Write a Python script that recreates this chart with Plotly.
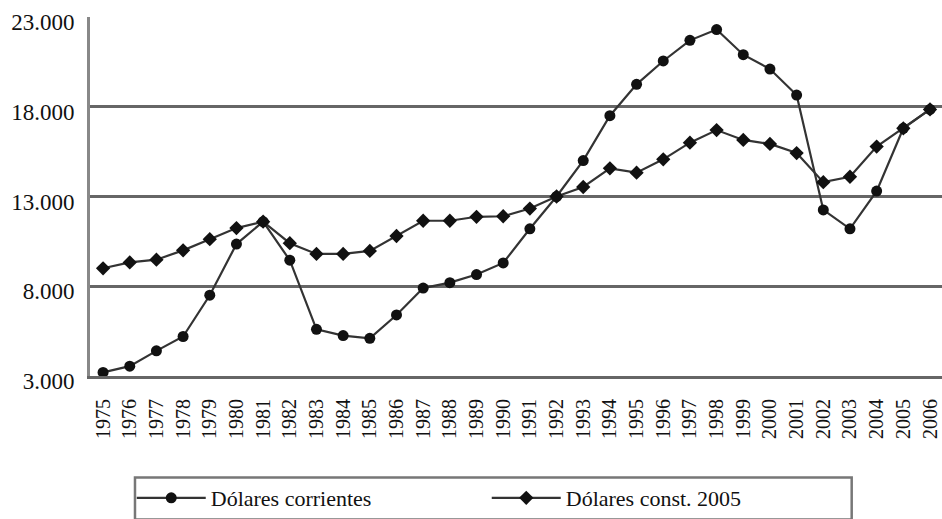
import plotly.graph_objects as go

years = list(range(1975, 2007))

# Dólares corrientes
corrientes = [3200, 3550, 4400, 5200, 7500, 10350, 11600, 9450, 5600, 5250,
              5100, 6400, 7900, 8200, 8650, 9300, 11200, 13000, 15000, 17500,
              19250, 20550, 21700, 22300, 20900, 20100, 18650, 12250, 11200, 13300,
              16800, 17850]

# Dólares constantes 2005
constantes = [9000, 9330, 9480, 10000, 10620, 11240, 11600, 10400, 9800, 9800,
              9970, 10800, 11650, 11650, 11870, 11900, 12330, 13000, 13530, 14570,
              14330, 15070, 16000, 16700, 16150, 15930, 15420, 13800, 14100, 15780,
              16800, 17850]

y_ticks = [3000, 8000, 13000, 18000, 23000]
y_labels = ["3.000", "8.000", "13.000", "18.000", "23.000"]

serif = "Liberation Serif"

fig = go.Figure()
fig.add_trace(go.Scatter(
    x=years, y=corrientes, name="Dólares corrientes", mode="lines+markers",
    line=dict(color="#333333", width=2.2),
    marker=dict(symbol="circle", size=11, color="#111111"),
))
fig.add_trace(go.Scatter(
    x=years, y=constantes, name="Dólares const. 2005", mode="lines+markers",
    line=dict(color="#333333", width=2.2),
    marker=dict(symbol="diamond", size=11, color="#111111"),
))

fig.update_layout(
    width=942, height=519,
    margin=dict(l=90, r=0, t=17, b=133),
    paper_bgcolor="white", plot_bgcolor="white",
    separators=",.",
    font=dict(family=serif, color="#111111"),
    showlegend=True,
    legend=dict(
        orientation="h", x=0.049, y=-0.283, xanchor="left", yanchor="top",
        font=dict(family=serif, size=22, color="#111111"),
        entrywidth=271, itemwidth=69, bgcolor="rgba(0,0,0,0)",
    ),
)

fig.update_xaxes(
    range=[1974.51, 2006.45], tickmode="array", tickvals=years,
    ticktext=[str(y) for y in years], tickangle=-90,
    tickfont=dict(family=serif, size=20), ticklabelstandoff=12,
    ticklabeloverflow="allow",
    showgrid=False, zeroline=False, automargin=False,
    showline=True, linecolor="#666666", linewidth=3,
)
fig.update_yaxes(
    range=[3000, 23000], tickmode="array", tickvals=y_ticks, ticktext=y_labels,
    tickfont=dict(family=serif, size=23), ticklabelstandoff=8,
    ticklabelshift=5, ticklabeloverflow="allow",
    showgrid=True, gridcolor="#666666", gridwidth=3, zeroline=False,
    automargin=False,
    showline=True, linecolor="#888888", linewidth=3,
)

# legend frame
fig.add_shape(type="rect", xref="paper", yref="paper",
              x0=0.0528, x1=0.894, y0=-0.40, y1=-0.283,
              line=dict(color="#777777", width=2.5), fillcolor="rgba(0,0,0,0)")

# the page body has a default 8px margin; drop it so the chart fills the window
fig.write_html("out.html", config={"displayModeBar": False},
               post_script="document.body.style.margin='0';")
